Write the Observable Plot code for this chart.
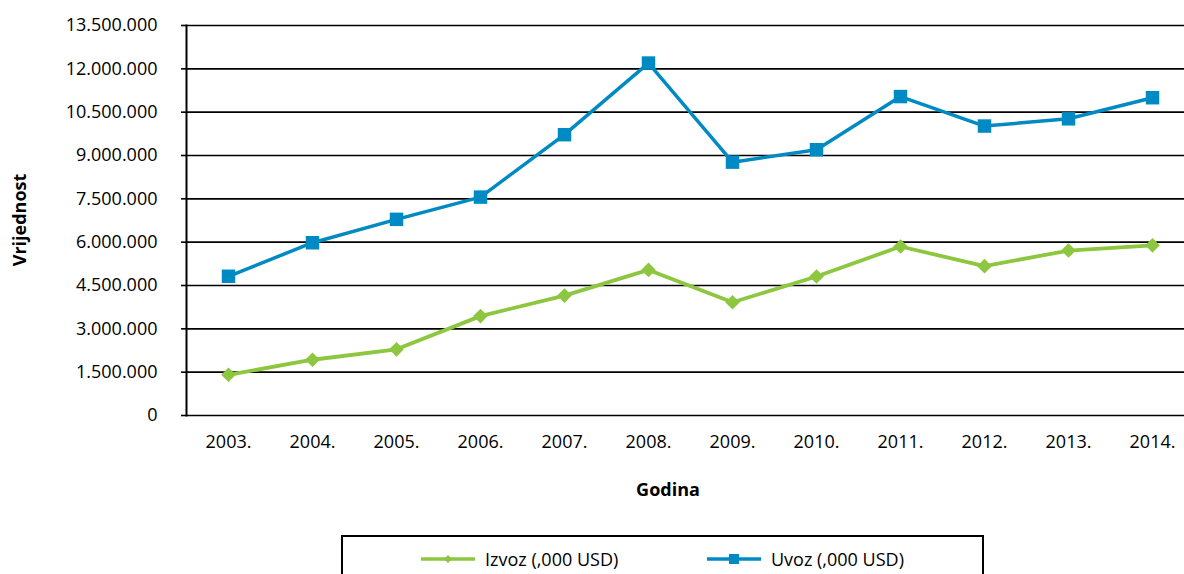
<!DOCTYPE html>
<html>
<head>
<meta charset="utf-8">
<script src="https://cdn.jsdelivr.net/npm/d3@7"></script>
<script src="https://cdn.jsdelivr.net/npm/@observablehq/plot@0.6"></script>
<style>
  html, body { margin: 0; padding: 0; background: #fff; overflow: hidden; }
  #wrap { position: relative; width: 1184px; height: 574px; overflow: hidden; font-family: "Open Sans", sans-serif; color: #000; }
  #chart { position: absolute; left: 0; top: 0; width: 1200px; }
  #chart svg { max-width: none !important; }
  .title { position: absolute; font-weight: bold; font-size: 18px; white-space: nowrap; }
  #ytitle { left: 19px; top: 220px; transform: translate(-50%, -50%) rotate(-90deg); }
  #xtitle { left: 668px; top: 489px; transform: translate(-50%, -50%); }
  #legend { position: absolute; left: 341px; top: 535px; width: 643px; height: 70px; border: 2px solid #000; box-sizing: border-box; background: #fff; }
  .item { position: absolute; top: 10px; height: 24px; display: flex; align-items: center; font-size: 18px; white-space: nowrap; }
</style>
</head>
<body>
<div id="wrap">
  <div id="chart"></div>
  <div class="title" id="ytitle">Vrijednost</div>
  <div class="title" id="xtitle">Godina</div>
  <div id="legend"></div>
</div>
<script>
const years = ["2003.", "2004.", "2005.", "2006.", "2007.", "2008.", "2009.", "2010.", "2011.", "2012.", "2013.", "2014."];
const izvoz = [1410000, 1930000, 2290000, 3440000, 4150000, 5040000, 3920000, 4810000, 5850000, 5170000, 5710000, 5890000];
const uvoz = [4820000, 5980000, 6790000, 7560000, 9720000, 12200000, 8770000, 9200000, 11040000, 10020000, 10270000, 11000000];
const yTicks = [0, 1500000, 3000000, 4500000, 6000000, 7500000, 9000000, 10500000, 12000000, 13500000];
const seriesNames = ["Izvoz (,000 USD)", "Uvoz (,000 USD)"];
const seriesColors = ["#8dc63f", "#008ac4"];

const fmt = d3.formatLocale({decimal: ",", thousands: ".", grouping: [3], currency: ["", ""]}).format(",d");

const izvozData = years.map((y, i) => ({year: y, value: izvoz[i]}));
const uvozData = years.map((y, i) => ({year: y, value: uvoz[i]}));

const plot = Plot.plot({
  width: 1200,
  height: 520,
  marginLeft: 186,
  marginRight: 6,
  marginTop: 25,
  marginBottom: 105,
  style: {fontFamily: "Open Sans, sans-serif", fontSize: "18px", color: "#000", background: "transparent", maxWidth: "none"},
  x: {type: "point", domain: years, padding: 0.5},
  y: {domain: [0, 13500000]},
  marks: [
    Plot.ruleY(yTicks, {stroke: "#000", strokeWidth: 1.6}),
    Plot.frame({anchor: "left", stroke: "#000", strokeWidth: 2}),
    Plot.axisY({ticks: yTicks, tickFormat: fmt, tickSize: 5, tickPadding: 24, label: null, stroke: "#000", strokeWidth: 1.6, fontSize: 18}),
    Plot.axisX({tickSize: 0, tickPadding: 20, label: null, fontSize: 18}),
    Plot.line(uvozData, {x: "year", y: "value", stroke: seriesColors[1], strokeWidth: 3.5}),
    Plot.dot(uvozData, {x: "year", y: "value", symbol: "square", r: 7.6, fill: seriesColors[1], stroke: "none"}),
    Plot.line(izvozData, {x: "year", y: "value", stroke: seriesColors[0], strokeWidth: 3.8}),
    Plot.dot(izvozData, {x: "year", y: "value", symbol: "diamond2", r: 6.6, fill: seriesColors[0], stroke: "none"})
  ]
});
plot.style.maxWidth = "none";
document.getElementById("chart").appendChild(plot);

// legend
const legend = document.getElementById("legend");
const itemLefts = [78, 364];
seriesNames.forEach((name, i) => {
  const it = document.createElement("div");
  it.className = "item";
  it.style.left = itemLefts[i] + "px";
  const sym = i === 0
    ? `<path d="M27,-4 L31,0 L27,4 L23,0 Z" fill="${seriesColors[i]}"/>`
    : `<rect x="22" y="-5" width="10" height="10" fill="${seriesColors[i]}"/>`;
  it.innerHTML = `<svg width="64" height="24" viewBox="0 -12 64 24"><line x1="0" x2="54" y1="0" y2="0" stroke="${seriesColors[i]}" stroke-width="3.5"/>${sym}</svg><span>${name}</span>`;
  legend.appendChild(it);
});
</script>
</body>
</html>
